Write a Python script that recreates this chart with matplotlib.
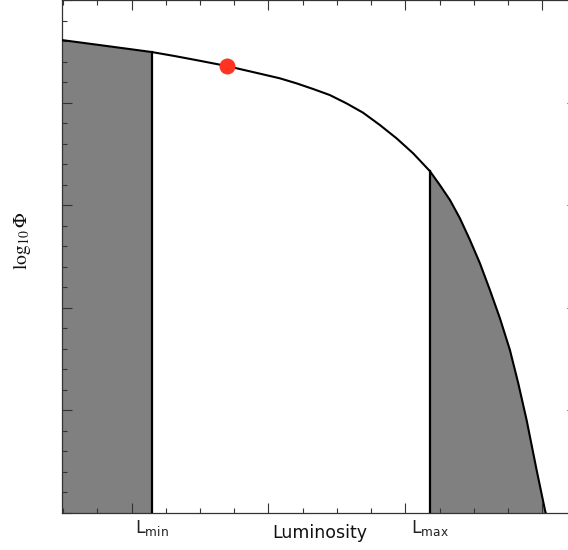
import numpy as np
import matplotlib
matplotlib.use("Agg")
import matplotlib.pyplot as plt
from matplotlib.ticker import MultipleLocator

plt.rcParams['mathtext.fontset'] = 'stix'

# luminosity function (log L, log10 Phi)
log_l = [8.488, 8.766, 8.985, 9.146, 9.314, 9.497, 9.694, 9.863, 10.082, 10.204,
         10.325, 10.447, 10.569, 10.690, 10.813, 10.935, 11.056, 11.178, 11.251, 11.325,
         11.398, 11.471, 11.544, 11.617, 11.690, 11.763, 11.824, 11.885, 11.958, 12.019,
         12.048]
log_phi = [-1.390, -1.439, -1.478, -1.507, -1.546, -1.592, -1.643, -1.695, -1.763, -1.812,
           -1.867, -1.926, -2.007, -2.098, -2.218, -2.348, -2.494, -2.667, -2.803, -2.949,
           -3.128, -3.339, -3.566, -3.827, -4.102, -4.411, -4.736, -5.094, -5.581, -5.971,
           -6.117]

l_min = 9.146
l_max = 11.178
# red marker on the curve
dot_x = 9.694
dot_y = -1.643

x = np.array(log_l)
y = np.array(log_phi)

fig = plt.figure(figsize=(5.68, 5.50), dpi=100)
ax = fig.add_axes([62 / 568, 37 / 550, 514.6 / 568, 513 / 550])

y_floor = -6.0

# shaded regions outside [Lmin, Lmax]
lo = x <= l_min
hi = x >= l_max
ax.fill_between(x[lo], y[lo], y_floor, color='#808080', lw=0)
ax.fill_between(x[hi], y[hi], y_floor, color='#808080', lw=0)

ax.plot(x, y, color='black', lw=1.5, zorder=3)

# vertical limits
ax.plot([l_min, l_min], [y_floor, np.interp(l_min, x, y)], color='black', lw=1.6, zorder=3)
ax.plot([l_max, l_max], [y_floor, np.interp(l_max, x, y)], color='black', lw=1.6, zorder=3)

ax.plot(dot_x, dot_y, 'o', color='#ff3322', ms=11.5, mec='none', zorder=4)

ax.set_xlim(8.492, 12.25)
ax.set_ylim(-6, -1)

ax.xaxis.set_major_locator(MultipleLocator(1))
ax.xaxis.set_minor_locator(MultipleLocator(0.25))
ax.yaxis.set_major_locator(MultipleLocator(1))
ax.yaxis.set_minor_locator(MultipleLocator(0.2))
ax.tick_params(which='both', direction='in', top=True, right=True,
               labelbottom=False, labelleft=False, color='#333333', width=0.8)
ax.tick_params(which='major', length=7.2)
ax.tick_params(which='minor', length=3.6)
for s in ax.spines.values():
    s.set_color('#333333')
    s.set_linewidth(0.9)

trans = ax.get_xaxis_transform()
ax.text(l_min, -0.039, r'L$_{\mathregular{min}}$', transform=trans, ha='center',
        va='baseline', fontsize=12.5, color='#222222', family='DejaVu Sans',
        math_fontfamily='dejavusans')
ax.text(l_max, -0.039, r'L$_{\mathregular{max}}$', transform=trans, ha='center',
        va='baseline', fontsize=12.5, color='#222222', family='DejaVu Sans',
        math_fontfamily='dejavusans')

ax.set_xlabel('Luminosity', fontsize=12.5, color='#111111')
ax.xaxis.set_label_coords(0.5, -0.021)
ax.set_ylabel(r'$\log_{10}\Phi$', fontsize=14, color='#111111')
ax.yaxis.set_label_coords(-0.056, 0.53)

fig.savefig('out.png', dpi=100)
